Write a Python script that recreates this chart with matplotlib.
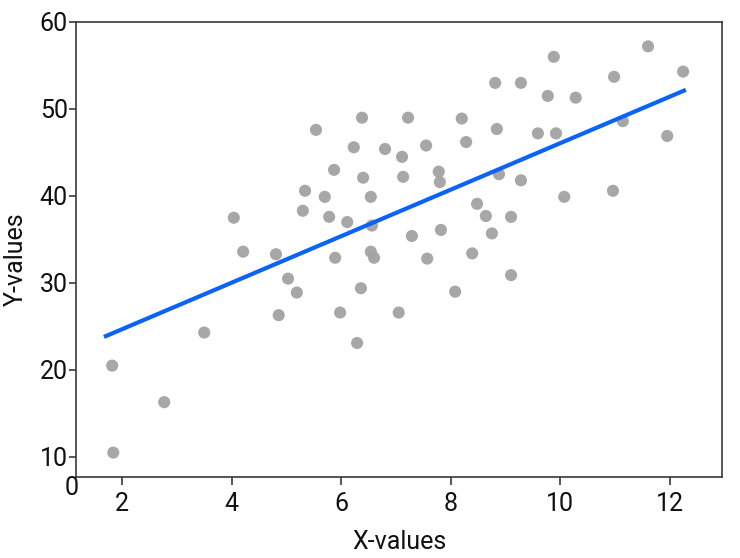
import matplotlib
matplotlib.use("Agg")
import matplotlib.pyplot as plt
import numpy as np

plt.rcParams['font.family'] = ['Roboto', 'DejaVu Sans']

# Scatter data
x_vals = [1.82, 1.84, 2.77, 3.50, 4.04, 4.21, 4.81, 4.86, 5.03, 5.19,
          5.34, 5.30, 5.54, 5.70, 5.78, 5.87, 5.89, 5.98, 6.11, 6.23,
          6.38, 6.40, 6.36, 6.29, 6.54, 6.54, 6.60, 6.80, 7.05, 7.11,
          7.13, 7.22, 7.29, 7.55, 7.57, 7.78, 7.80, 7.82, 8.08, 8.20,
          8.28, 8.39, 8.48, 8.64, 8.75, 8.81, 8.84, 8.88, 9.10, 9.10,
          9.28, 9.28, 9.59, 9.77, 9.88, 9.92, 10.07, 10.28, 10.98, 10.96,
          11.14, 11.60, 11.95, 12.24, 6.56]
y_vals = [20.5, 10.5, 16.3, 24.3, 37.5, 33.6, 33.3, 26.3, 30.5, 28.9,
          40.6, 38.3, 47.6, 39.9, 37.6, 43.0, 32.9, 26.6, 37.0, 45.6,
          49.0, 42.1, 29.4, 23.1, 39.9, 33.6, 32.9, 45.4, 26.6, 44.5,
          42.2, 49.0, 35.4, 45.8, 32.8, 42.8, 41.6, 36.1, 29.0, 48.9,
          46.2, 33.4, 39.1, 37.7, 35.7, 53.0, 47.7, 42.5, 37.6, 30.9,
          53.0, 41.8, 47.2, 51.5, 56.0, 47.2, 39.9, 51.3, 53.7, 40.6,
          48.6, 57.2, 46.9, 54.3, 36.6]

# Fitted line
fit_x = [1.67, 12.29]
fit_y = [23.8, 52.2]

x_ticks = [2, 4, 6, 8, 10, 12]
y_ticks = [10, 20, 30, 40, 50, 60]

fig = plt.figure(figsize=(7.4, 5.58), dpi=100)
ax = fig.add_axes([0.1027, 0.1452, 0.8730, 0.8154])

ax.scatter(x_vals, y_vals, s=76, color='#a2a2a2', edgecolors='none', alpha=0.95, zorder=2)
ax.plot(fit_x, fit_y, color='#0a63f5', linewidth=3.0, solid_capstyle='butt', zorder=3)

ax.set_xlim(1.16, 12.95)
ax.set_ylim(7.7, 60)
ax.set_xticks(x_ticks)
ax.set_yticks(y_ticks)

for s in ax.spines.values():
    s.set_color('#3a3a3a')
    s.set_linewidth(1.2)

ax.tick_params(axis='x', direction='out', length=6, width=1.2, color='#3a3a3a',
               labelsize=18, pad=5, labelcolor='#111111')
ax.tick_params(axis='y', direction='out', length=5, width=1.2, color='#3a3a3a',
               labelsize=18, pad=1, labelcolor='#111111')

ax.set_xlabel('X-values', fontsize=18, color='#111111', va='center')
ax.xaxis.set_label_coords(0.5, -0.143)
ax.set_ylabel('Y-values', fontsize=18, color='#111111', va='center', ha='center')
ax.yaxis.set_label_coords(-0.093, 0.479)

ax.text(-0.006, -0.024, '0', transform=ax.transAxes, fontsize=18, color='#111111',
        ha='center', va='center')

fig.savefig('out.png', dpi=100, facecolor='white')
